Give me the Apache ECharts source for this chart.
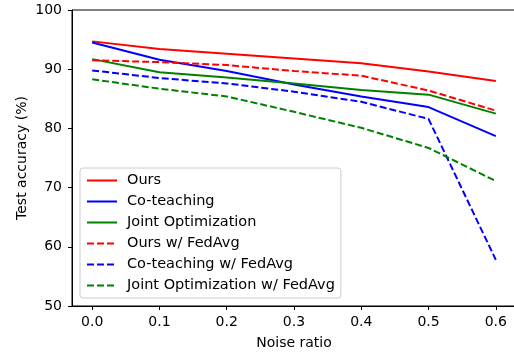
<!DOCTYPE html>
<html>
<head>
<meta charset="utf-8">
<script src="https://cdn.jsdelivr.net/npm/echarts@6/dist/echarts.min.js"></script>
<style>
  html, body { margin: 0; padding: 0; background: #fff; }
  #main { width: 514px; height: 354px; }
</style>
</head>
<body>
<div id="main"></div>
<script>
// noise ratios on the x axis
var noise = [0.0, 0.1, 0.2, 0.3, 0.4, 0.5, 0.6];

// test accuracy (%)
var ours          = [94.7, 93.4, 92.6, 91.8, 91.0, 89.6, 88.0];
var coteach       = [94.5, 91.6, 89.7, 87.4, 85.4, 83.6, 78.7];
var jointOpt      = [91.7, 89.5, 88.6, 87.6, 86.5, 85.7, 82.5];
var oursFed       = [91.5, 91.2, 90.7, 89.7, 88.9, 86.4, 83.0];
var coteachFed    = [89.8, 88.5, 87.6, 86.2, 84.5, 81.6, 57.8];
var jointOptFed   = [88.3, 86.7, 85.4, 82.8, 80.1, 76.7, 71.1];

var xTicks = [0.0, 0.1, 0.2, 0.3, 0.4, 0.5, 0.6];

function pairs(ys) {
  return noise.map(function (x, i) { return [x, ys[i]]; });
}

function mk(name, ys, color, dashed) {
  return {
    name: name,
    type: 'line',
    data: pairs(ys),
    symbol: 'none',
    silent: true,
    itemStyle: { color: color },
    lineStyle: { color: color, width: 2, type: dashed ? [7, 3] : 'solid' }
  };
}

var myChart = echarts.init(document.getElementById('main'));
var font = 'DejaVu Sans';

var option = {
  animation: false,
  textStyle: { fontFamily: font },
  grid: {
    left: 72, right: -2, top: 10, bottom: 48,
    outerBoundsMode: 'none',
    show: true, borderColor: '#000', borderWidth: 1
  },
  legend: {
    orient: 'vertical',
    left: 80, top: 168,
    itemWidth: 30, itemHeight: 14, itemGap: 6,
    padding: [5, 6, 5, 6],
    backgroundColor: 'rgba(255,255,255,0.8)',
    borderColor: '#cccccc', borderWidth: 1, borderRadius: 3,
    itemStyle: { opacity: 0 },
    textStyle: { fontFamily: font, fontSize: 14.5, color: '#000', padding: [0, 0, 0, 5] },
    data: ['Ours', 'Co-teaching', 'Joint Optimization',
           'Ours w/ FedAvg', 'Co-teaching w/ FedAvg', 'Joint Optimization w/ FedAvg']
  },
  xAxis: {
    type: 'value',
    min: -0.03, max: 0.63,
    name: 'Noise ratio',
    nameLocation: 'middle',
    nameGap: 30,
    nameMoveOverlap: false,
    nameTextStyle: { fontFamily: font, fontSize: 14, color: '#000' },
    axisLine: { onZero: false, lineStyle: { color: '#000' } },
    axisTick: { inside: false, length: 4, customValues: xTicks, lineStyle: { color: '#000' } },
    axisLabel: {
      customValues: xTicks,
      margin: 9,
      fontFamily: font, fontSize: 14, color: '#000',
      formatter: function (v) { return v.toFixed(1); }
    },
    splitLine: { show: false }
  },
  yAxis: {
    type: 'value',
    min: 50, max: 100, interval: 10,
    name: 'Test accuracy (%)',
    nameLocation: 'middle',
    nameGap: 43,
    nameMoveOverlap: false,
    nameTextStyle: { fontFamily: font, fontSize: 14, color: '#000' },
    axisLine: { show: true, onZero: false, lineStyle: { color: '#000' } },
    axisTick: { show: true, inside: false, length: 4, lineStyle: { color: '#000' } },
    axisLabel: { margin: 10, fontFamily: font, fontSize: 14, color: '#000' },
    splitLine: { show: false }
  },
  series: [
    mk('Ours', ours, '#ff0000', false),
    mk('Co-teaching', coteach, '#0000ff', false),
    mk('Joint Optimization', jointOpt, '#008000', false),
    mk('Ours w/ FedAvg', oursFed, '#ff0000', true),
    mk('Co-teaching w/ FedAvg', coteachFed, '#0000ff', true),
    mk('Joint Optimization w/ FedAvg', jointOptFed, '#008000', true)
  ]
};

myChart.setOption(option);
</script>
</body>
</html>
